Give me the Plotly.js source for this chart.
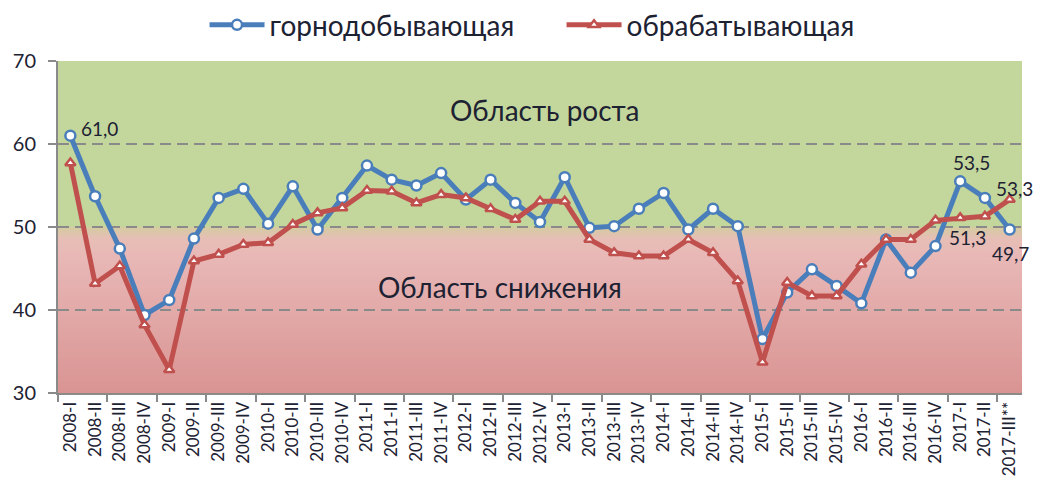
<!DOCTYPE html>
<html>
<head>
<meta charset="utf-8">
<script src="https://cdn.plot.ly/plotly-3.0.1.min.js"></script>
<style>
html,body{margin:0;padding:0;background:#fff;}
#chart{width:1038px;height:500px;}
</style>
</head>
<body>
<div id="chart"></div>
<script>
// ---- data ----
const categories = [
  '2008-I','2008-II','2008-III','2008-IV',
  '2009-I','2009-II','2009-III','2009-IV',
  '2010-I','2010-II','2010-III','2010-IV',
  '2011-I','2011-II','2011-III','2011-IV',
  '2012-I','2012-II','2012-III','2012-IV',
  '2013-I','2013-II','2013-III','2013-IV',
  '2014-I','2014-II','2014-III','2014-IV',
  '2015-I','2015-II','2015-III','2015-IV',
  '2016-I','2016-II','2016-III','2016-IV',
  '2017-I','2017-II','2017-III**'
];
const seriesNames = ['горнодобывающая', 'обрабатывающая'];
const mining = [61.0, 53.7, 47.4, 39.4, 41.2, 48.6, 53.5, 54.6, 50.4, 54.9,
                49.7, 53.5, 57.4, 55.7, 55.0, 56.5, 53.3, 55.7, 52.9, 50.6,
                56.0, 49.9, 50.1, 52.2, 54.1, 49.7, 52.2, 50.1, 36.5, 42.1,
                44.9, 42.9, 40.8, 48.5, 44.5, 47.7, 55.5, 53.5, 49.7];
const manufacturing = [57.7, 43.2, 45.3, 38.2, 32.8, 45.9, 46.7, 47.9, 48.1, 50.3,
                       51.7, 52.3, 54.4, 54.3, 52.9, 53.9, 53.5, 52.2, 50.9, 53.1,
                       53.1, 48.5, 46.9, 46.5, 46.5, 48.5, 46.9, 43.5, 33.7, 43.3,
                       41.7, 41.7, 45.5, 48.5, 48.5, 50.8, 51.1, 51.3, 53.3];
const yTicks = [30, 40, 50, 60, 70];
const zoneLabels = ['Область роста', 'Область снижения'];
const threshold = 50;

// ---- styling ----
const FONT = 'Lato, "Noto Sans", sans-serif';
const TXT = '#1d2233';
const BLUE = '#4a7ebb';
const RED = '#c0504d';
const GRAY = '#8a8a8a';

const idx = categories.map((_, i) => i);
const fmt = v => v.toFixed(1).replace('.', ',');

const traces = [
  {
    x: idx, y: mining, name: seriesNames[0], type: 'scatter', mode: 'lines+markers',
    line: {color: BLUE, width: 5},
    marker: {symbol: 'circle', size: 10, color: '#ffffff', line: {color: BLUE, width: 2.5}},
    hoverinfo: 'skip'
  },
  {
    x: idx, y: manufacturing, name: seriesNames[1], type: 'scatter', mode: 'lines+markers',
    line: {color: RED, width: 5},
    marker: {symbol: 'triangle-up', size: 9, color: '#ffffff', line: {color: RED, width: 2.5}},
    hoverinfo: 'skip'
  }
];

// background zones
const shapes = [];
shapes.push({type: 'rect', xref: 'paper', yref: 'y', x0: 0, x1: 1, y0: threshold, y1: 70,
             fillcolor: '#c3d69b', line: {width: 0}, layer: 'below'});
const stops = [
  [30, [217, 148, 146]],
  [46.5, [232, 184, 183]],
  [48.6, [231, 190, 182]],
  [50, [212, 204, 160]]
];
function colAt(v) {
  for (let k = 0; k < stops.length - 1; k++) {
    const [a, ca] = stops[k], [b, cb] = stops[k + 1];
    if (v >= a && v <= b) {
      const t = (v - a) / (b - a);
      return 'rgb(' + ca.map((c, j) => Math.round(c + (cb[j] - c) * t)).join(',') + ')';
    }
  }
  return 'rgb(' + stops[stops.length - 1][1].join(',') + ')';
}
const N = 80;
for (let k = N; k >= 1; k--) {
  const top = 30 + (threshold - 30) * k / N;
  const mid = top - (threshold - 30) / (2 * N);
  shapes.push({type: 'rect', xref: 'paper', yref: 'y', x0: 0, x1: 1, y0: 30, y1: top,
               fillcolor: colAt(mid), line: {width: 0}, layer: 'below'});
}

const lastI = categories.length - 1;
const labelFont = {family: FONT, size: 19, color: TXT};
const annotations = [
  {xref: 'paper', yref: 'y', x: 0.505, y: 64.1, text: zoneLabels[0], showarrow: false,
   font: {family: FONT, size: 28, color: TXT}},
  {xref: 'paper', yref: 'y', x: 0.4585, y: 42.8, text: zoneLabels[1], showarrow: false,
   font: {family: FONT, size: 28, color: TXT}},
  {x: 0, y: mining[0], text: fmt(mining[0]), showarrow: false, xanchor: 'left',
   xshift: 9, yshift: 7, font: labelFont},
  {x: lastI - 1, y: mining[lastI - 1], text: fmt(mining[lastI - 1]), showarrow: false,
   xshift: -13, yshift: 35, font: labelFont},
  {x: lastI, y: mining[lastI], text: fmt(mining[lastI]), showarrow: false,
   xshift: 1, yshift: -24, font: labelFont},
  {x: lastI, y: manufacturing[lastI], text: fmt(manufacturing[lastI]), showarrow: false,
   xshift: 5, yshift: 11, font: labelFont},
  {x: lastI - 1, y: manufacturing[lastI - 1], text: fmt(manufacturing[lastI - 1]), showarrow: false,
   xshift: -17, yshift: -21, font: labelFont}
];

const layout = {
  width: 1038, height: 500,
  margin: {l: 58, r: 16, t: 61, b: 107, autoexpand: false},
  paper_bgcolor: '#ffffff', plot_bgcolor: '#ffffff',
  font: {family: FONT, color: TXT},
  showlegend: true,
  legend: {orientation: 'h', x: 0.152, xanchor: 'left', y: 1.108, yanchor: 'middle',
           font: {family: FONT, size: 28, color: TXT}, bgcolor: 'rgba(0,0,0,0)',
           itemwidth: 55, entrywidth: 287, tracegroupgap: 0},
  xaxis: {
    type: 'linear', range: [-0.5, categories.length - 0.5],
    tickmode: 'array', tickvals: idx, ticktext: categories, tickangle: -90,
    ticks: '', showgrid: false, zeroline: false,
    showline: true, linecolor: GRAY, linewidth: 2,
    tickfont: {family: FONT, size: 17, color: TXT},
    minor: {tick0: -0.5, dtick: 2, ticks: 'outside', ticklen: 7, tickwidth: 2,
            tickcolor: GRAY, showgrid: false},
    fixedrange: true
  },
  yaxis: {
    range: [30, 70], tickmode: 'array', tickvals: yTicks,
    ticks: 'outside', ticklen: 8, tickwidth: 2, tickcolor: GRAY,
    showline: true, linecolor: GRAY, linewidth: 2,
    showgrid: true, gridcolor: GRAY, gridwidth: 2, griddash: '11px,6px',
    zeroline: false, ticklabelstandoff: 8,
    tickfont: {family: FONT, size: 20, color: TXT},
    fixedrange: true
  },
  shapes: shapes,
  annotations: annotations
};

Plotly.newPlot('chart', traces, layout, {displayModeBar: false, staticPlot: true});
</script>
</body>
</html>
